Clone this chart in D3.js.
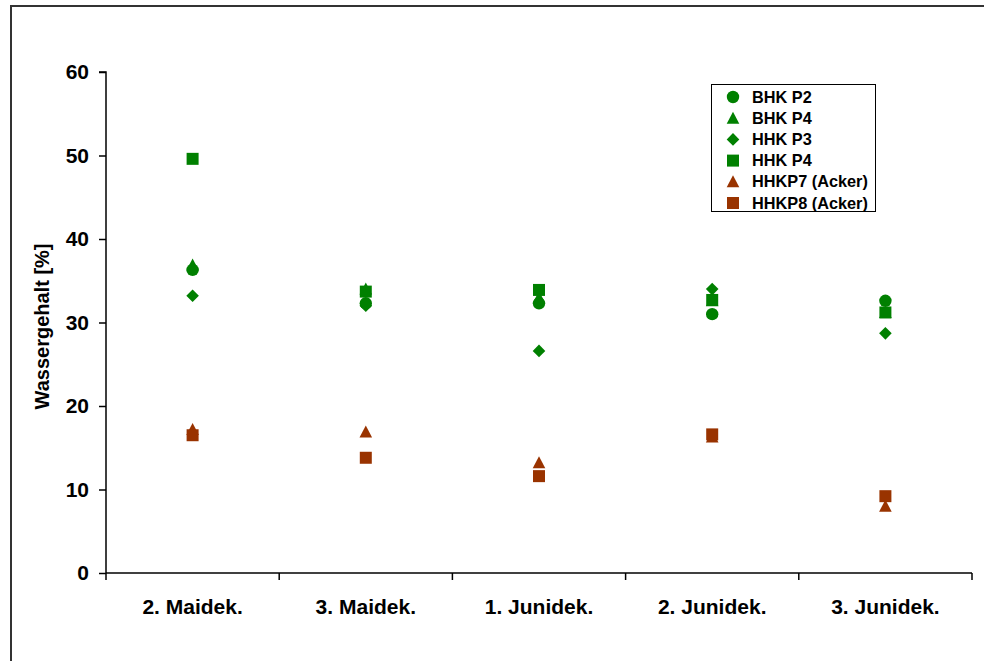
<!DOCTYPE html>
<html><head><meta charset="utf-8">
<script src="https://cdn.jsdelivr.net/npm/d3@7"></script>
<style>body{margin:0;background:#fff;}svg{display:block;font-family:"Liberation Sans",Arial,sans-serif;font-weight:bold;}</style>
</head><body>
<svg id="c" width="984" height="661"></svg>
<script>
const categories = ["2. Maidek.", "3. Maidek.", "1. Junidek.", "2. Junidek.", "3. Junidek."];
const seriesNames = ["BHK P2", "BHK P4", "HHK P3", "HHK P4", "HHKP7 (Acker)", "HHKP8 (Acker)"];
const seriesShapes = ["circle", "triangle", "diamond", "square", "triangle", "square"];
const seriesColors = ["#008000", "#008000", "#008000", "#008000", "#993300", "#993300"];
const bhkP2 = [36.3, 32.3, 32.3, 31.0, 32.6];
const bhkP4 = [36.9, 34.0, 33.0, 32.6, 31.2];
const hhkP3 = [33.2, 32.0, 26.6, 34.0, 28.7];
const hhkP4 = [49.6, 33.7, 33.9, 32.7, 31.2];
const hhkp7 = [17.2, 16.9, 13.2, 16.3, 8.0];
const hhkp8 = [16.5, 13.8, 11.6, 16.6, 9.2];
const seriesValues = [bhkP2, bhkP4, hhkP3, hhkP4, hhkp7, hhkp8];
const yTicks = [0, 10, 20, 30, 40, 50, 60];

const svg = d3.select("#c");
const FONT = "Liberation Sans, Arial, sans-serif";
// outer frame
svg.append("rect").attr("x", 11).attr("y", 6).attr("width", 1000).attr("height", 700)
  .attr("fill", "none").attr("stroke", "#333").attr("stroke-width", 2);

const mLeft = 106, mRight = 972, mTop = 72, mBottom = 573;
const x = d3.scaleBand().domain(categories).range([mLeft, mRight]);
const y = d3.scaleLinear().domain([0, 60]).range([mBottom, mTop]);

const yAxis = svg.append("g").attr("transform", `translate(${mLeft},0)`)
  .call(d3.axisLeft(y).tickValues(yTicks).tickSize(7).tickPadding(10));
yAxis.selectAll("text").attr("font-size", 21).attr("font-weight", "bold").attr("fill", "#000")
  .attr("font-family", FONT);
yAxis.selectAll("line,path").attr("stroke", "#000").attr("stroke-width", 1.5);
yAxis.select(".domain").attr("d", `M-7,${mTop}H0V${mBottom}`);

const xAxis = svg.append("g").attr("transform", `translate(0,${mBottom})`)
  .call(d3.axisBottom(x).tickSize(0).tickPadding(26));
xAxis.selectAll("text").attr("font-size", 21).attr("font-weight", "bold").attr("fill", "#000")
  .attr("font-family", FONT);
xAxis.select(".domain").attr("d", `M${mLeft},0H${mRight}`).attr("stroke", "#000").attr("stroke-width", 1.5);
// category boundary ticks
const bounds = categories.map(c => x(c)).concat([mRight]);
xAxis.selectAll(".bt").data(bounds).enter().append("line")
  .attr("x1", d => d).attr("x2", d => d).attr("y1", 0).attr("y2", 7)
  .attr("stroke", "#000").attr("stroke-width", 1.5);

svg.append("text").attr("transform", `translate(49,${(mTop + mBottom) / 2 + 4}) rotate(-90)`)
  .attr("text-anchor", "middle").attr("font-size", 20).text("Wassergehalt [%]");

function sym(shape) {
  const p = d3.path();
  if (shape === "circle") { p.arc(0, 0, 6.2, 0, 2 * Math.PI); }
  else if (shape === "square") { p.rect(-6, -6, 12, 12); }
  else if (shape === "diamond") { p.moveTo(0, -6.3); p.lineTo(6.3, 0); p.lineTo(0, 6.3); p.lineTo(-6.3, 0); p.closePath(); }
  else if (shape === "triangle") { p.moveTo(0, -6.5); p.lineTo(6.3, 5.5); p.lineTo(-6.3, 5.5); p.closePath(); }
  return p.toString();
}

seriesValues.forEach((vals, i) => {
  svg.append("g").selectAll("path").data(vals).enter().append("path")
    .attr("d", sym(seriesShapes[i]))
    .attr("transform", (d, j) => `translate(${x(categories[j]) + x.bandwidth() / 2},${y(d)})`)
    .attr("fill", seriesColors[i]);
});

// legend
const lg = svg.append("g");
lg.append("rect").attr("x", 711.5).attr("y", 84.5).attr("width", 164).attr("height", 127)
  .attr("fill", "#fff").attr("stroke", "#000").attr("stroke-width", 1);
seriesNames.forEach((n, i) => {
  const yy = 97 + i * 21.2;
  lg.append("path").attr("d", sym(seriesShapes[i])).attr("transform", `translate(733,${yy})`).attr("fill", seriesColors[i]);
  lg.append("text").attr("x", 752).attr("y", yy + 5.5).attr("font-size", 16.3).text(n);
});
</script>
</body></html>
